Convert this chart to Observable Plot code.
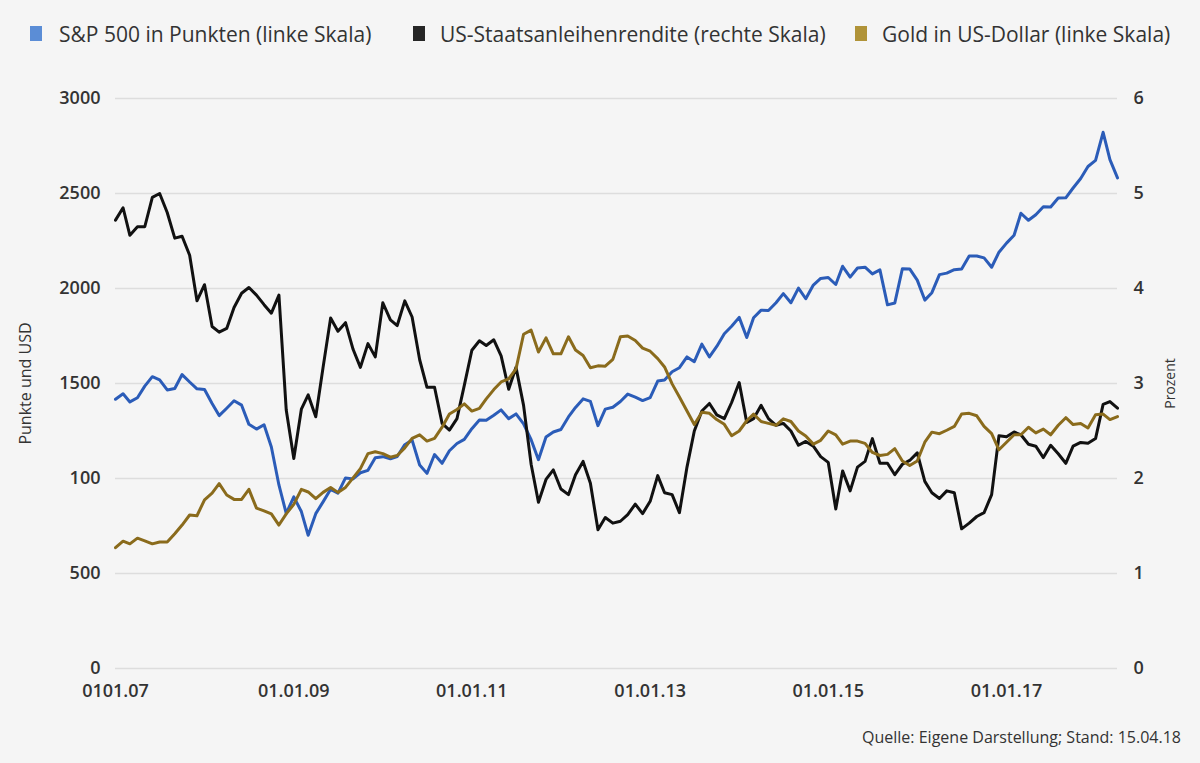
<!DOCTYPE html>
<html>
<head>
<meta charset="utf-8">
<script src="https://cdn.jsdelivr.net/npm/d3@7"></script>
<script src="https://cdn.jsdelivr.net/npm/@observablehq/plot@0.6"></script>
<style>
  html, body { margin: 0; padding: 0; background: #f5f5f5; }
  body { width: 1200px; height: 763px; overflow: hidden; position: relative; font-family: "Open Sans", sans-serif; color: #333; }
  #legend { position: relative; height: 70px; }
  .item { position: absolute; top: 21px; height: 26px; line-height: 26px; font-size: 21px; color: #333; white-space: nowrap; }
  .sw { position: absolute; top: 5px; width: 12px; height: 15px; }
  #chart { position: absolute; top: 70px; left: 0; }
  #caption { position: absolute; top: 726px; right: 19px; font-size: 16px; line-height: 22px; color: #333; }
</style>
</head>
<body>
<div id="legend"></div>
<div id="chart"></div>
<div id="caption"></div>
<script>
// ---- Data (monthly, Jan 2007 – Apr 2018) ----
const startMonth = "2007-01-01";
const endMonth = "2018-04-01";

const sp500 = [
  1417, 1446, 1403, 1425, 1486, 1536, 1519, 1466, 1474, 1547, 1508, 1472,
  1468, 1395, 1331, 1370, 1409, 1386, 1285, 1260, 1283, 1166, 966, 816,
  903, 826, 701, 815, 877, 943, 923, 1003, 998, 1030, 1043, 1109,
  1115, 1104, 1116, 1178, 1202, 1071, 1027, 1126, 1080, 1146, 1184, 1206,
  1262, 1308, 1306, 1333, 1361, 1315, 1340, 1287, 1204, 1099, 1218, 1245,
  1258, 1324, 1374, 1419, 1406, 1278, 1365, 1375, 1405, 1444, 1428, 1410,
  1426, 1513, 1518, 1562, 1583, 1640, 1615, 1707, 1640, 1695, 1762, 1801,
  1848, 1742, 1846, 1886, 1884, 1925, 1973, 1925, 2002, 1946, 2018, 2053,
  2058, 2021, 2117, 2060, 2108, 2112, 2077, 2098, 1914, 1924, 2104, 2103,
  2044, 1939, 1978, 2073, 2081, 2099, 2103, 2171, 2171, 2161, 2112, 2191,
  2239, 2280, 2396, 2359, 2388, 2430, 2429, 2476, 2477, 2529, 2579, 2642,
  2674, 2822, 2678, 2582
];

const yield10 = [
  4.72, 4.85, 4.56, 4.65, 4.65, 4.96, 5.00, 4.80, 4.53, 4.55, 4.35, 3.87,
  4.04, 3.60, 3.54, 3.58, 3.80, 3.95, 4.01, 3.93, 3.83, 3.74, 3.93, 2.72,
  2.21, 2.73, 2.88, 2.65, 3.17, 3.69, 3.55, 3.64, 3.36, 3.17, 3.42, 3.28,
  3.85, 3.67, 3.61, 3.87, 3.70, 3.25, 2.96, 2.96, 2.58, 2.51, 2.63, 2.98,
  3.35, 3.45, 3.40, 3.46, 3.29, 2.94, 3.17, 2.77, 2.15, 1.75, 1.99, 2.09,
  1.89, 1.83, 2.04, 2.18, 1.95, 1.46, 1.59, 1.53, 1.55, 1.62, 1.73, 1.63,
  1.76, 2.03, 1.85, 1.83, 1.64, 2.12, 2.50, 2.71, 2.79, 2.67, 2.63, 2.80,
  3.01, 2.59, 2.63, 2.77, 2.63, 2.56, 2.58, 2.50, 2.35, 2.39, 2.34, 2.23,
  2.17, 1.68, 2.08, 1.87, 2.12, 2.18, 2.42, 2.16, 2.16, 2.04, 2.15, 2.19,
  2.27, 1.97, 1.85, 1.79, 1.87, 1.85, 1.47, 1.53, 1.60, 1.64, 1.83, 2.45,
  2.44, 2.49, 2.46, 2.36, 2.34, 2.22, 2.35, 2.26, 2.16, 2.34, 2.38, 2.37,
  2.42, 2.78, 2.81, 2.74
];

const gold = [
  636, 670, 656, 686, 672, 656, 666, 666, 709, 755, 808, 804,
  888, 923, 973, 913, 890, 890, 943, 844, 830, 814, 755, 814,
  864, 943, 929, 894, 927, 953, 927, 953, 1003, 1052, 1131, 1141,
  1131, 1112, 1121, 1161, 1211, 1230, 1197, 1211, 1270, 1339, 1363, 1393,
  1355, 1369, 1419, 1468, 1508, 1524, 1577, 1759, 1781, 1666, 1740, 1656,
  1656, 1746, 1676, 1647, 1583, 1593, 1591, 1627, 1746, 1750, 1726, 1686,
  1670, 1631, 1587, 1498, 1429, 1355, 1284, 1349, 1343, 1310, 1285, 1225,
  1250, 1304, 1339, 1300, 1290, 1280, 1314, 1300, 1250, 1224, 1181, 1201,
  1250, 1230, 1181, 1197, 1197, 1185, 1137, 1121, 1127, 1157, 1092, 1068,
  1092, 1191, 1244, 1236, 1254, 1274, 1339, 1343, 1330, 1274, 1236, 1151,
  1191, 1230, 1230, 1270, 1240, 1260, 1230, 1280, 1320, 1284, 1290, 1266,
  1335, 1339, 1310, 1326
];

const seriesNames = ["S&P 500 in Punkten (linke Skala)", "US-Staatsanleihenrendite (rechte Skala)", "Gold in US-Dollar (linke Skala)"];
const leftTicks = [0, 500, 1000, 1500, 2000, 2500, 3000];
const leftLabels = ["0", "500", "100", "1500", "2000", "2500", "3000"];
const rightTicks = [0, 1, 2, 3, 4, 5, 6];
const xTickDates = ["2007-01-01", "2009-01-01", "2011-01-01", "2013-01-01", "2015-01-01", "2017-01-01"];
const xTickLabels = ["0101.07", "01.01.09", "01.01.11", "01.01.13", "01.01.15", "01.01.17"];
const yTitleLeft = "Punkte und USD";
const yTitleRight = "Prozent";
const captionText = "Quelle: Eigene Darstellung; Stand: 15.04.18";

// ---- Styles ----
const lineColors = ["#2b5cb8", "#111111", "#8a6b1c"];
const swatchColors = ["#5b8dd6", "#262626", "#b09338"];
const legendPos = [{sw: 30, tx: 59}, {sw: 413, tx: 440}, {sw: 855, tx: 882}];

// ---- Build table ----
const months = d3.utcMonth.range(new Date(startMonth), d3.utcMonth.offset(new Date(endMonth), 1));
const rows = months.map((date, i) => ({date, sp: sp500[i], yld: yield10[i], gold: gold[i]}));
const rightScale = 3000 / 6; // percent -> left-axis units
const xTicks = xTickDates.map(d => new Date(d));

// ---- Legend ----
const legend = document.getElementById("legend");
seriesNames.forEach((name, i) => {
  const sw = document.createElement("div");
  sw.className = "item";
  sw.style.left = legendPos[i].sw + "px";
  sw.innerHTML = `<span class="sw" style="left:0;background:${swatchColors[i]}"></span>`;
  legend.appendChild(sw);
  const t = document.createElement("div");
  t.className = "item";
  t.style.left = legendPos[i].tx + "px";
  t.textContent = name;
  legend.appendChild(t);
});
document.getElementById("caption").textContent = captionText;

// ---- Chart ----
const chart = Plot.plot({
  width: 1200,
  height: 645,
  marginLeft: 115,
  marginRight: 83,
  marginTop: 28,
  marginBottom: 47,
  style: {background: "transparent", fontFamily: "'Open Sans', sans-serif", fontSize: "18px", color: "#333", overflow: "visible"},
  x: {type: "utc", domain: [months[0], months[months.length - 1]]},
  y: {domain: [0, 3000]},
  marks: [
    Plot.gridY(leftTicks, {stroke: "#dddddd", strokeOpacity: 1, strokeWidth: 1.5}),
    Plot.axisY({ticks: leftTicks, tickFormat: d => leftLabels[leftTicks.indexOf(d)], tickSize: 0, tickPadding: 15, label: null, fontWeight: 600, fill: "#333"}),
    Plot.axisY({anchor: "right", ticks: rightTicks.map(t => t * rightScale), tickFormat: d => String(rightTicks[Math.round(d / rightScale)]), tickSize: 0, tickPadding: 16, label: null, fontWeight: 600, fill: "#333"}),
    Plot.axisX({ticks: xTicks, tickFormat: d => xTickLabels[xTicks.findIndex(t => +t === +d)], tickSize: 0, tickPadding: 16, label: null, fontWeight: 600, fill: "#333"}),
    Plot.text([yTitleLeft], {frameAnchor: "left", textAnchor: "middle", dx: -90, rotate: -90, text: d => d, fontSize: 16, fill: "#333"}),
    Plot.text([yTitleRight], {frameAnchor: "right", textAnchor: "middle", dx: 53, rotate: -90, text: d => d, fontSize: 14, fill: "#333"}),
    Plot.line(rows, {x: "date", y: "sp", stroke: lineColors[0], strokeWidth: 3}),
    Plot.line(rows, {x: "date", y: d => d.yld * rightScale, stroke: lineColors[1], strokeWidth: 3}),
    Plot.line(rows, {x: "date", y: "gold", stroke: lineColors[2], strokeWidth: 3})
  ]
});
document.getElementById("chart").appendChild(chart);
</script>
</body>
</html>
